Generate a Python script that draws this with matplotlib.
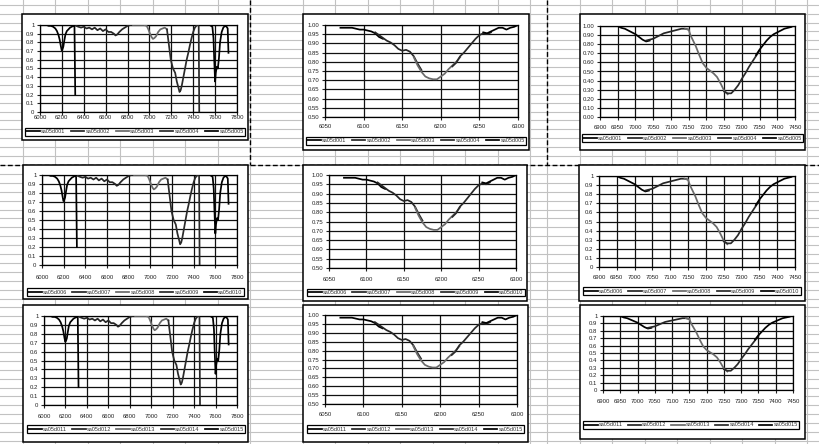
import matplotlib
matplotlib.use("Agg")
import matplotlib.pyplot as plt
from matplotlib.patches import Rectangle
from matplotlib.ticker import FixedLocator, FuncFormatter

plt.rcParams["font.family"] = ["Liberation Sans", "DejaVu Sans"]

# ---------------- spectra (wavelength, relative transmission) ----------------
# broad scan 6000-7800, five overlapping windows
A_x1 = [6060, 6080, 6100, 6120, 6140, 6155, 6170, 6180, 6190, 6198, 6205, 6213, 6222, 6232, 6245, 6260, 6275, 6290, 6305, 6315, 6322]
A_y1 = [1.00, 0.99, 0.99, 0.98, 0.96, 0.93, 0.88, 0.83, 0.76, 0.71, 0.72, 0.75, 0.82, 0.89, 0.93, 0.95, 0.97, 0.98, 0.99, 0.98, 0.20]
A_x2 = [6330, 6350, 6375, 6400, 6425, 6450, 6475, 6500, 6525, 6550, 6575, 6600, 6625, 6650, 6675, 6690, 6705, 6725, 6750, 6775, 6800, 6825, 6850]
A_y2 = [0.99, 0.98, 0.97, 0.98, 0.96, 0.97, 0.95, 0.97, 0.94, 0.96, 0.93, 0.95, 0.92, 0.92, 0.90, 0.88, 0.89, 0.92, 0.95, 0.97, 0.99, 1.00, 1.00]
A_x3 = [6850, 6900, 6950, 6975, 6990, 7005, 7020, 7032, 7045, 7060, 7080, 7100, 7120, 7140, 7160]
A_y3 = [1.00, 1.00, 1.00, 0.99, 0.95, 0.90, 0.86, 0.84, 0.85, 0.87, 0.92, 0.95, 0.96, 0.97, 0.95]
A_x4 = [7160, 7175, 7195, 7215, 7235, 7250, 7265, 7275, 7285, 7295, 7310, 7325, 7340, 7355, 7370, 7385, 7400, 7415, 7435, 7450, 7455]
A_y4 = [0.95, 0.80, 0.60, 0.50, 0.45, 0.35, 0.28, 0.23, 0.25, 0.30, 0.40, 0.50, 0.60, 0.68, 0.77, 0.85, 0.92, 0.97, 1.00, 1.00, 0.00]
A_x5 = [7460, 7500, 7550, 7575, 7585, 7592, 7600, 7606, 7615, 7625, 7635, 7645, 7660, 7675, 7690, 7705, 7715, 7722]
A_y5 = [1.00, 1.00, 1.00, 0.98, 0.85, 0.60, 0.35, 0.45, 0.52, 0.50, 0.62, 0.80, 0.92, 0.97, 0.99, 0.98, 0.96, 0.68]

# close-up of the 6200 band
B_x1 = [6070, 6075, 6080, 6085, 6090, 6095, 6100, 6105, 6110, 6115, 6120, 6125]
B_y1 = [0.985, 0.985, 0.985, 0.985, 0.980, 0.975, 0.975, 0.970, 0.965, 0.955, 0.935, 0.925]
B_x2 = [6115, 6120, 6125, 6130, 6135, 6140, 6145, 6150, 6155, 6160, 6165, 6170, 6175]
B_y2 = [0.960, 0.945, 0.930, 0.915, 0.905, 0.890, 0.870, 0.860, 0.865, 0.855, 0.830, 0.790, 0.755]
B_x3 = [6165, 6170, 6175, 6180, 6185, 6190, 6195, 6200, 6205, 6210, 6215, 6220, 6225]
B_y3 = [0.825, 0.780, 0.745, 0.720, 0.710, 0.705, 0.705, 0.720, 0.735, 0.760, 0.780, 0.800, 0.825]
B_x4 = [6215, 6220, 6225, 6230, 6235, 6240, 6245, 6250, 6255, 6260, 6265]
B_y4 = [0.775, 0.795, 0.830, 0.850, 0.875, 0.900, 0.925, 0.945, 0.955, 0.950, 0.960]
B_x5 = [6255, 6260, 6265, 6270, 6275, 6280, 6285, 6290, 6295, 6300]
B_y5 = [0.960, 0.955, 0.965, 0.975, 0.985, 0.985, 0.975, 0.985, 0.990, 1.000]

# close-up of the 7250 band
C_x1 = [6950, 6960, 6970, 6980, 6990, 7000, 7010, 7020, 7030, 7040]
C_y1 = [1.00, 0.98, 0.97, 0.95, 0.93, 0.91, 0.88, 0.85, 0.83, 0.84]
C_x2 = [7030, 7040, 7050, 7060, 7070, 7080, 7090, 7100, 7110, 7120, 7130, 7140, 7150]
C_y2 = [0.84, 0.85, 0.86, 0.88, 0.90, 0.92, 0.93, 0.94, 0.95, 0.96, 0.97, 0.97, 0.96]
C_x3 = [7140, 7150, 7155, 7160, 7170, 7180, 7190, 7200, 7210, 7220, 7230, 7240, 7250, 7260]
C_y3 = [0.97, 0.96, 0.90, 0.86, 0.78, 0.68, 0.59, 0.54, 0.51, 0.48, 0.44, 0.37, 0.29, 0.25]
C_x4 = [7250, 7260, 7270, 7280, 7290, 7300, 7310, 7320, 7330, 7340, 7350]
C_y4 = [0.28, 0.26, 0.26, 0.30, 0.35, 0.42, 0.48, 0.55, 0.61, 0.67, 0.73]
C_x5 = [7340, 7350, 7360, 7370, 7380, 7390, 7400, 7410, 7420, 7430, 7440]
C_y5 = [0.68, 0.74, 0.79, 0.84, 0.88, 0.91, 0.93, 0.95, 0.97, 0.98, 0.99]

series = {
    "A": [(A_x1, A_y1), (A_x2, A_y2), (A_x3, A_y3), (A_x4, A_y4), (A_x5, A_y5)],
    "B": [(B_x1, B_y1), (B_x2, B_y2), (B_x3, B_y3), (B_x4, B_y4), (B_x5, B_y5)],
    "C": [(C_x1, C_y1), (C_x2, C_y2), (C_x3, C_y3), (C_x4, C_y4), (C_x5, C_y5)],
}

run_names = [
    ["sa05d001", "sa05d002", "sa05d003", "sa05d004", "sa05d005"],
    ["sa05d006", "sa05d007", "sa05d008", "sa05d009", "sa05d010"],
    ["sa05d011", "sa05d012", "sa05d013", "sa05d014", "sa05d015"],
]

x_ticks = {
    "A": list(range(6000, 7801, 200)),
    "B": list(range(6050, 6301, 50)),
    "C": list(range(6900, 7451, 50)),
}
y_ticks = {
    "A": [0, 0.1, 0.2, 0.3, 0.4, 0.5, 0.6, 0.7, 0.8, 0.9, 1.0],
    "B": [0.50, 0.55, 0.60, 0.65, 0.70, 0.75, 0.80, 0.85, 0.90, 0.95, 1.00],
    "C": [0, 0.1, 0.2, 0.3, 0.4, 0.5, 0.6, 0.7, 0.8, 0.9, 1.0],
}

line_colors = ["#000000", "#262626", "#6a6a6a", "#2a2a2a", "#000000"]

# ---------------- page layout (pixels) ----------------
W, H = 820, 444
fig = plt.figure(figsize=(W / 100, H / 100), dpi=100)

bg = fig.add_axes([0, 0, 1, 1])
bg.set_xlim(0, W)
bg.set_ylim(H, 0)
bg.axis("off")

grid_gray = "#c2c2c2"
for k in range(-18, 32):
    bg.axhline(165 + 8.9 * k, color=grid_gray, lw=0.8, zorder=0)
col_lines = [22.7, 55.2, 87.7, 120.2, 152.7, 185.2, 217.7, 250.5,
             303, 335.5, 368, 400.5, 433, 465.5, 498, 530.5, 547.5,
             580, 612.5, 645, 677.5, 710, 742.5, 775, 807.5]
for x in col_lines:
    bg.axvline(x, color=grid_gray, lw=0.8, zorder=0)

# page breaks
dash = (0, (3.5, 1.8))
bg.plot([250.5, 250.5], [0, 165], color="black", lw=1.0, ls=dash, zorder=1)
bg.plot([547.5, 547.5], [0, 165], color="black", lw=1.0, ls=dash, zorder=1)
bg.axhline(165, color="black", lw=1.0, ls=dash, zorder=1)

# kind, row, plot area (x0, top, x1, bottom), frame, legend box, x-label offset, y format
charts = [
    ("A", 0, (40, 25, 237, 112), (22.5, 14.5, 248.5, 140.5), (25, 126, 245, 137.5), 5.7, "g"),
    ("B", 0, (325, 25, 518, 117), (303, 14.5, 529, 150.5), (306, 136, 526, 145.5), 9.3, "2f"),
    ("C", 0, (600, 26, 795, 117), (580, 14.5, 805, 150.5), (582, 133, 803, 143), 10.7, "2f"),
    ("A", 1, (42, 175, 237, 265), (23, 165, 248.5, 298.5), (27, 287.5, 244, 296.5), 12.7, "g"),
    ("B", 1, (329, 175, 516, 268), (303, 165, 527, 300.5), (307, 288, 525, 297), 11.7, "2f"),
    ("C", 1, (599, 176, 795, 267), (579, 165, 805, 300.5), (583, 286.5, 801, 295.5), 10.7, "g"),
    ("A", 2, (44, 316, 237, 405), (23, 305, 248.5, 442), (27, 424.5, 245, 433.5), 11.7, "g"),
    ("B", 2, (325, 315, 517, 404), (303, 305, 528, 442), (307, 424.5, 524, 433.5), 10.7, "2f"),
    ("C", 2, (603, 316, 793, 390), (580, 305, 805, 439), (583, 420.5, 799, 429.5), 11.7, "g"),
]

tick_pt = 2.0
fs = 4.3

for kind, row, (px0, pt, px1, pb), (bx0, by0, bx1, by1), (lx0, ly0, lx1, ly1), xoff, yfmt in charts:
    bg.add_patch(Rectangle((bx0, by0), bx1 - bx0, by1 - by0, facecolor="white",
                           edgecolor="black", lw=1.1, zorder=2))

    ax = fig.add_axes([px0 / W, 1 - pb / H, (px1 - px0) / W, (pb - pt) / H])
    ax.set_facecolor("white")
    handles = []
    for (xs, ys), c, name in zip(series[kind], line_colors, run_names[row]):
        h, = ax.plot(xs, ys, color=c, lw=1.25, label=name, zorder=3)
        handles.append(h)

    xt, yt = x_ticks[kind], y_ticks[kind]
    ax.set_xlim(xt[0], xt[-1])
    ax.set_ylim(yt[0], yt[-1])
    ax.xaxis.set_major_locator(FixedLocator(xt))
    ax.yaxis.set_major_locator(FixedLocator(yt))
    ax.xaxis.set_major_formatter(FuncFormatter(lambda v, p: "%d" % round(v)))
    if yfmt == "2f":
        ax.yaxis.set_major_formatter(FuncFormatter(lambda v, p: "%.2f" % v))
    else:
        ax.yaxis.set_major_formatter(FuncFormatter(lambda v, p: "%g" % round(v, 2)))

    ax.grid(True, color="#111111", lw=0.9)
    ax.set_axisbelow(True)
    for s in ax.spines.values():
        s.set_color("black")
        s.set_linewidth(0.9)

    xpad = max((xoff - tick_pt * 1.389 - 2.4) / 1.389, 0.1)
    ax.tick_params(axis="x", direction="out", length=tick_pt, width=0.8, pad=xpad,
                   labelsize=fs, colors="#222222")
    ax.tick_params(axis="y", direction="out", length=tick_pt, width=0.8, pad=2.0,
                   labelsize=fs, colors="#222222")

    leg = ax.legend(handles=handles, loc="center",
                    bbox_to_anchor=(lx0 / W, 1 - ly1 / H, (lx1 - lx0) / W, (ly1 - ly0) / H),
                    bbox_transform=fig.transFigure, ncol=5, mode="expand",
                    fontsize=4.0, frameon=True, fancybox=False, framealpha=1,
                    edgecolor="black", borderpad=0.25, handlelength=2.4,
                    handletextpad=0.2, columnspacing=0.2, borderaxespad=0)
    leg.get_frame().set_linewidth(0.9)
    for t in leg.get_texts():
        t.set_color("#333333")

fig.savefig("out.png", dpi=100)
